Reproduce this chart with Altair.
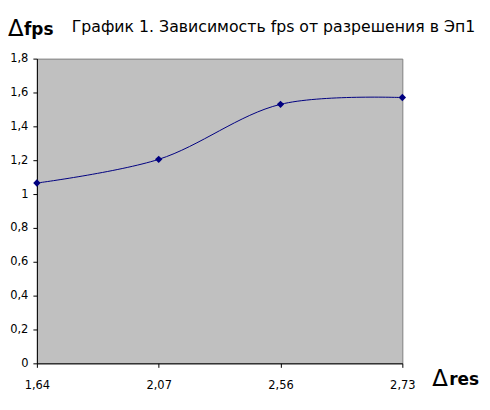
import altair as alt
import pandas as pd

res_labels = ["1,64", "2,07", "2,56", "2,73"]
fps_values = [1.065, 1.205, 1.53, 1.57]
y_ticks = [0, 0.2, 0.4, 0.6, 0.8, 1.0, 1.2, 1.4, 1.6, 1.8]
title_text = "График 1. Зависимость fps от разрешения в Эп1"

df = pd.DataFrame({"res": res_labels, "fps": fps_values})

FONT = "DejaVu Sans"
W, H = 367, 306

x_enc = alt.X("res:N", sort=None,
              scale=alt.Scale(type="point", padding=0),
              axis=alt.Axis(title=None, labelAngle=0, labelFont=FONT, labelFontSize=11.5,
                            labelColor="black", domainColor="black", tickColor="black",
                            tickSize=4, labelPadding=12, grid=False))
y_enc = alt.Y("fps:Q",
              scale=alt.Scale(domain=[0, 1.8], nice=False, zero=True),
              axis=alt.Axis(title=None, values=y_ticks, grid=False,
                            labelExpr="replace(format(datum.value, '.2~g'), '.', ',')",
                            labelFont=FONT, labelFontSize=11.5, labelColor="black",
                            domainColor="black", tickColor="black", tickSize=4,
                            labelPadding=5))

base = alt.Chart(df)
line = base.mark_line(color="#000080", strokeWidth=1, interpolate="catmull-rom").encode(x=x_enc, y=y_enc)
pts = base.mark_point(shape="diamond", filled=True, color="#000080", size=55, opacity=1).encode(x=x_enc, y=y_enc)

title = alt.Chart(pd.DataFrame({"t": [title_text]})).mark_text(
    align="left", baseline="alphabetic", font=FONT, fontSize=15.8, color="black"
).encode(text="t:N", x=alt.value(35), y=alt.value(-27))

d1 = alt.Chart(pd.DataFrame({"t": ["Δ"]})).mark_text(
    align="left", baseline="alphabetic", font=FONT, fontSize=23, color="black"
).encode(text="t:N", x=alt.value(-29), y=alt.value(-23))
fps_lbl = alt.Chart(pd.DataFrame({"t": ["fps"]})).mark_text(
    align="left", baseline="alphabetic", font=FONT, fontSize=17, fontWeight="bold", color="black"
).encode(text="t:N", x=alt.value(-13), y=alt.value(-24))

d2 = alt.Chart(pd.DataFrame({"t": ["Δ"]})).mark_text(
    align="left", baseline="alphabetic", font=FONT, fontSize=23, color="black"
).encode(text="t:N", x=alt.value(397), y=alt.value(329))
res_lbl = alt.Chart(pd.DataFrame({"t": ["res"]})).mark_text(
    align="left", baseline="alphabetic", font=FONT, fontSize=17, fontWeight="bold", color="black"
).encode(text="t:N", x=alt.value(414), y=alt.value(328))

chart = alt.layer(line, pts, title, d1, fps_lbl, d2, res_lbl).properties(
    width=W, height=H,
    autosize=alt.AutoSizeParams(type="none"),
    padding={"left": 29, "top": 50, "right": 80, "bottom": 40},
    background="white",
).configure_view(fill="#C0C0C0", stroke="#808080", strokeWidth=1)

chart.save("out.html", embed_options={"renderer": "svg", "actions": False})
